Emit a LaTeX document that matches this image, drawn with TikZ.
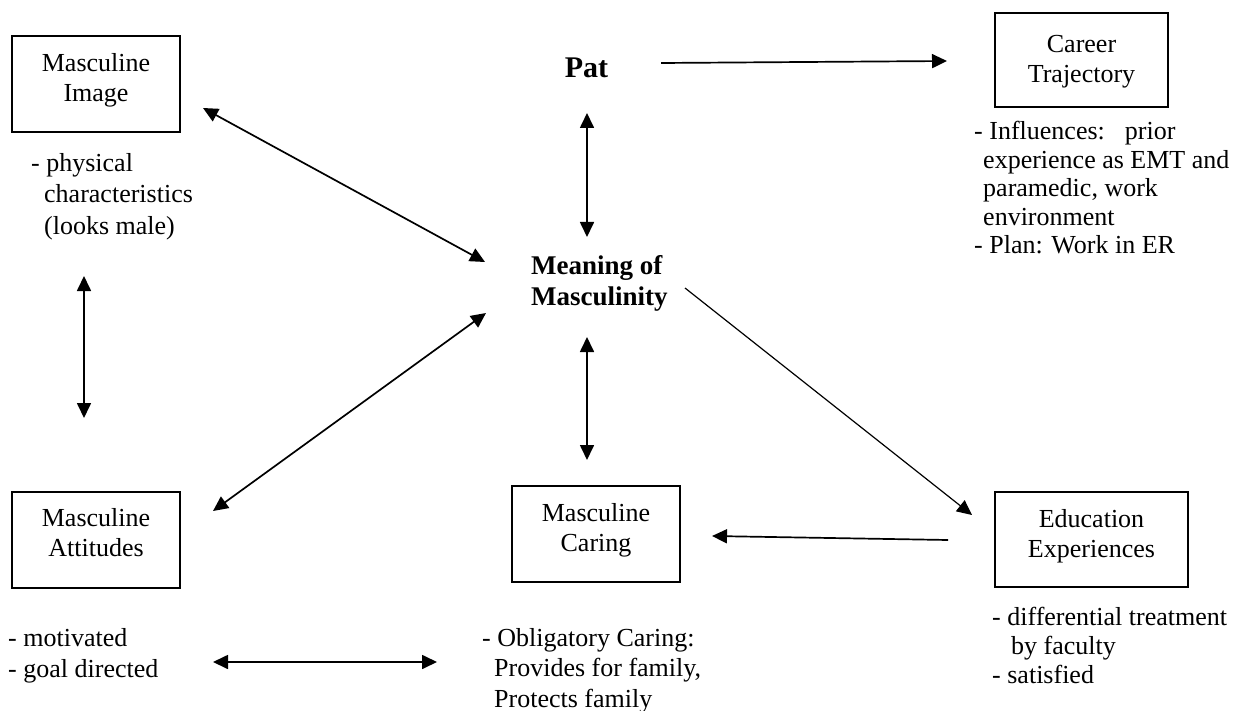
\documentclass[tikz,border=0pt]{standalone}
\usepackage{fontspec}
\setmainfont{Liberation Serif}
\usetikzlibrary{arrows.meta}
\begin{document}
\begin{tikzpicture}[x=1pt,y=-1pt,
  txt/.style={font=\fontsize{26}{30}\selectfont, inner sep=0pt},
  boxtext/.style={txt, align=center},
  conceptbox/.style={draw, line width=1.8pt, inner sep=0pt},
  desc/.style={txt, align=left, anchor=north west},
  link/.style={line width=1.7pt},
  thin link/.style={line width=1.2pt},
  tip/.style={-{Triangle[length=15pt,width=14pt]}},
  both/.style={{Triangle[length=15pt,width=14pt]}-{Triangle[length=15pt,width=14pt]}},
]
\useasboundingbox (0,0) rectangle (1238,711);

% concept boxes
\node[conceptbox, minimum width=168pt, minimum height=96pt] (image)     at (96,84) {};
\node[conceptbox, minimum width=173pt, minimum height=94pt] (career)    at (1081.5,60) {};
\node[conceptbox, minimum width=168pt, minimum height=96pt] (attitudes) at (96,540) {};
\node[conceptbox, minimum width=168pt, minimum height=96pt] (caring)    at (596,534) {};
\node[conceptbox, minimum width=193pt, minimum height=95pt] (education) at (1091.5,539.5) {};

% box titles
\node[boxtext] (imaget)     at (96,80.6)     {Masculine\\Image};
\node[boxtext] (careert)    at (1081.5,61.6) {Career\\Trajectory};
\node[boxtext] (attitudest) at (96,533)      {Masculine\\Attitudes};
\node[boxtext] (caringt)    at (596,530.6)   {Masculine\\Caring};
\node[boxtext] (educationt) at (1091.5,536.6){Education\\Experiences};

% central labels
\node[inner sep=0pt, font=\bfseries\fontsize{30}{36}\selectfont] (pat) at (586.5,68) {Pat};
\node[inner sep=0pt, anchor=west, align=left, font=\bfseries\fontsize{27}{31}\selectfont]
  (meaning) at (531,283) {Meaning of\\Masculinity};

% descriptions
\node[desc, font=\fontsize{26}{31.5}\selectfont] (imaged) at (31,152.8)
  {- physical\\\hspace*{13pt}characteristics\\\hspace*{13pt}(looks male)};
\node[desc, font=\fontsize{26}{28.5}\selectfont] (careerd) at (974,121)
  {- Influences:\hspace{20pt}prior\\\hspace*{9pt}experience as EMT and\\\hspace*{9pt}paramedic, work\\\hspace*{9pt}environment\\- Plan: Work in ER};
\node[desc, font=\fontsize{26}{31}\selectfont] (attitudesd) at (8,628)
  {- motivated\\- goal directed};
\node[desc, font=\fontsize{26}{30.5}\selectfont] (caringd) at (482,628)
  {- Obligatory Caring:\\\hspace*{12pt}Provides for family,\\\hspace*{12pt}Protects family};
\node[desc, font=\fontsize{26}{29}\selectfont] (educationd) at (992,607)
  {- differential treatment\\\hspace*{19pt}by faculty\\- satisfied};

% connector ends
\coordinate (patR)   at (661,63);
\coordinate (carL)   at (947,61);
\coordinate (patB)   at (587,113);
\coordinate (meanT)  at (587,237);
\coordinate (imgR)   at (203,108);
\coordinate (meanL1) at (485,262);
\coordinate (attR)   at (213,511);
\coordinate (meanL2) at (486,313);
\coordinate (imgB)   at (84,276);
\coordinate (attT)   at (84,418);
\coordinate (meanB)  at (587,337);
\coordinate (carT)   at (587,460);
\coordinate (meanR)  at (685,288);
\coordinate (eduL1)  at (972,515);
\coordinate (eduL2)  at (948,540);
\coordinate (carR)   at (712,536);
\coordinate (attD)   at (213,662);
\coordinate (carD)   at (437,662);

% connectors
\draw[link, tip]  (patR) -- (carL);
\draw[link, both] (patB) -- (meanT);
\draw[link, both] (imgR) -- (meanL1);
\draw[link, both] (attR) -- (meanL2);
\draw[link, both] (imgB) -- (attT);
\draw[link, both] (meanB) -- (carT);
\draw[thin link, tip] (meanR) -- (eduL1);
\draw[link, tip]  (eduL2) -- (carR);
\draw[link, both] (attD) -- (carD);
\end{tikzpicture}
\end{document}
